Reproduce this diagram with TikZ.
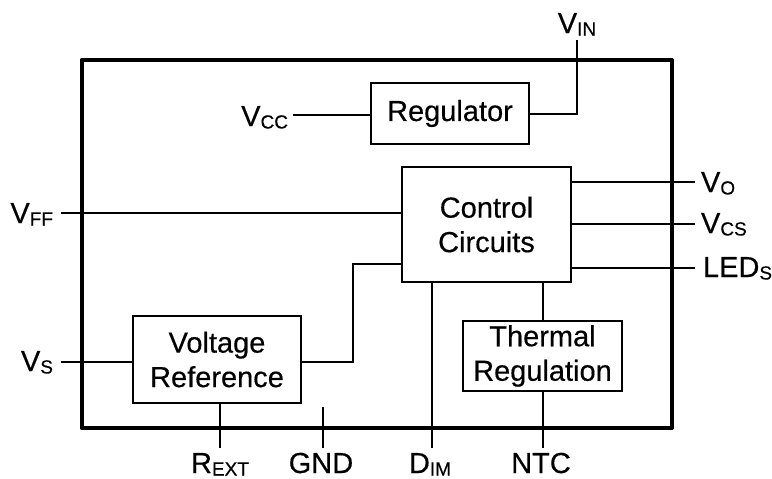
\documentclass[tikz,border=0pt]{standalone}
\usepackage{fontspec}
\setmainfont{Liberation Sans}[FakeBold=0.35]
\newcommand{\pinlbl}[2]{#1\raisebox{-2.5pt}{\fontsize{19}{19}\selectfont #2}}
\begin{document}
\begin{tikzpicture}[x=1pt,y=-1pt,
  every node/.style={inner sep=0pt,outer sep=0pt,font=\fontsize{29}{34.5}\selectfont},
  blk/.style={draw,line width=2pt,rectangle,align=center},
  wire/.style={line width=2pt}]
\useasboundingbox (0,0) rectangle (772,479);
% outer package
\draw[line width=4pt,line join=round] (81.5,60) rectangle (672,428);
% blocks
\node[blk,minimum width=158,minimum height=61] (reg) at (450,113.5) {Regulator};
\node[blk,minimum width=169,minimum height=115] (ctrl) at (486.5,224.5) {Control\\Circuits};
\node[blk,minimum width=168,minimum height=87] (vref) at (217,359.5) {Voltage\\Reference};
\node[blk,minimum width=159,minimum height=70] (therm) at (542.5,356) {Thermal\\Regulation};
% pin ends
\coordinate (cvcc) at (293,115);
\coordinate (cvin) at (577,40);
\coordinate (cvff) at (61,213);
\coordinate (cvo) at (695,182);
\coordinate (cvcs) at (695,224);
\coordinate (cleds) at (695,268);
\coordinate (cvs) at (61,362);
\coordinate (crext) at (220,448);
\coordinate (cgnd) at (323,448);
\coordinate (cgndtop) at (323,407);
\coordinate (cdim) at (432,448);
\coordinate (cntc) at (543,448);
\coordinate (cbend) at (353,264);
% labels
\node[anchor=base east] (lvcc) at (288,126) {\pinlbl{V}{CC}};
\node[anchor=base] (lvin) at (577,33) {\pinlbl{V}{IN}};
\node[anchor=base east] (lvff) at (53,223) {\pinlbl{V}{FF}};
\node[anchor=base east] (lvs) at (53,371) {\pinlbl{V}{S}};
\node[anchor=base west] (lvo) at (701,192) {\pinlbl{V}{O}};
\node[anchor=base west] (lvcs) at (701,233) {\pinlbl{V}{CS}};
\node[anchor=base west] (lleds) at (703,277) {\pinlbl{LED}{S}};
\node[anchor=base] (lrext) at (220,473) {\pinlbl{R}{EXT}};
\node[anchor=base] (lgnd) at (321,473) {GND};
\node[anchor=base] (ldim) at (430,473) {\pinlbl{D}{IM}};
\node[anchor=base] (lntc) at (541,473) {NTC};
% wires
\draw[wire] (cvcc) -- (reg.west |- cvcc);
\draw[wire] (reg.east) -| (cvin);
\draw[wire] (cvff) -- (ctrl.west |- cvff);
\draw[wire] (ctrl.east |- cvo) -- (cvo);
\draw[wire] (ctrl.east |- cvcs) -- (cvcs);
\draw[wire] (ctrl.east |- cleds) -- (cleds);
\draw[wire] (cvs) -- (vref.west |- cvs);
\draw[wire] (vref.east |- cvs) -| (cbend) -- (ctrl.west |- cbend);
\draw[wire] (vref.south -| crext) -- (crext);
\draw[wire] (cgndtop) -- (cgnd);
\draw[wire] (ctrl.south -| cdim) -- (cdim);
\draw[wire] (ctrl.south -| cntc) -- (therm.north -| cntc);
\draw[wire] (therm.south -| cntc) -- (cntc);
\end{tikzpicture}
\end{document}
